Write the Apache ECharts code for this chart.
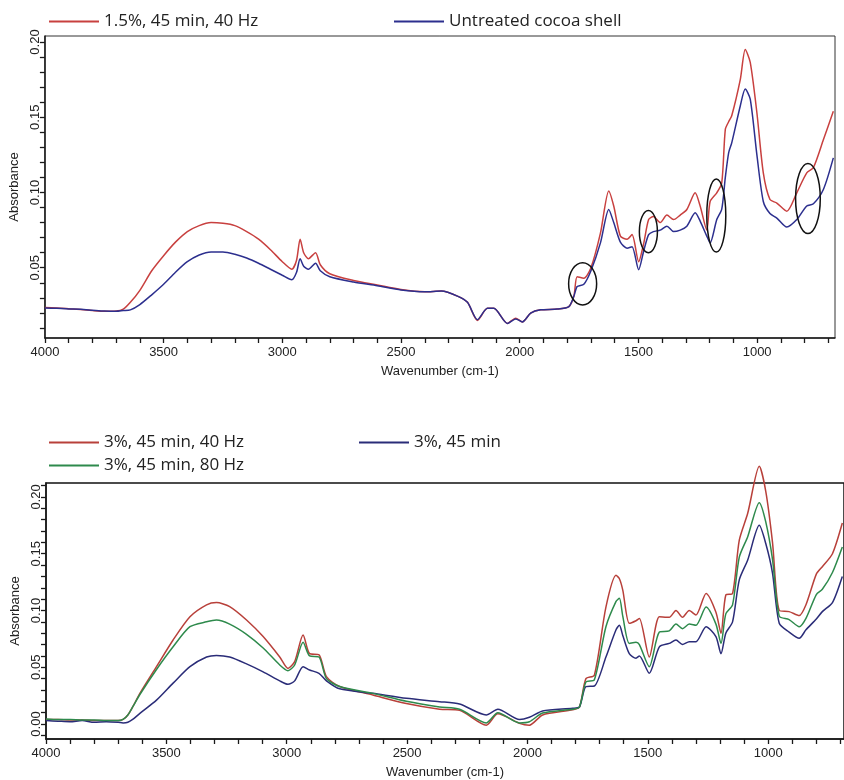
<!DOCTYPE html>
<html><head><meta charset="utf-8">
<script src="https://cdn.jsdelivr.net/npm/echarts@6/dist/echarts.min.js"></script>
<style>html,body{margin:0;padding:0;background:#fff}#c{width:844px;height:780px}</style>
</head><body><div id="c"></div>
<script>
// ---------- Top panel data ----------
const topWavenumbers = [4000,3950,3900,3850,3800,3750,3700,3670,3640,3600,3550,3500,3450,3400,3350,3300,3250,3200,3150,3100,3050,3000,2960,2940,2925,2910,2890,2860,2840,2800,2700,2600,2500,2400,2330,2260,2220,2178,2136,2109,2052,2017,1989,1954,1912,1842,1793,1772,1758,1730,1700,1660,1625,1604,1576,1548,1527,1499,1478,1457,1437,1408,1380,1352,1324,1296,1261,1240,1212,1198,1170,1149,1134,1120,1107,1071,1050,1029,1001,974,946,917,875,833,791,763,721,679];
const topTreated = [0.0235,0.0232,0.0228,0.0222,0.0215,0.021,0.0212,0.0225,0.027,0.035,0.048,0.058,0.067,0.074,0.078,0.080,0.0795,0.078,0.074,0.069,0.062,0.054,0.049,0.055,0.069,0.060,0.056,0.060,0.052,0.046,0.0415,0.0385,0.0355,0.034,0.0345,0.031,0.027,0.015,0.023,0.023,0.013,0.0165,0.014,0.0198,0.022,0.0225,0.0242,0.031,0.044,0.043,0.050,0.073,0.101,0.091,0.071,0.069,0.072,0.054,0.066,0.082,0.084,0.080,0.085,0.082,0.085,0.0887,0.0998,0.091,0.075,0.094,0.0998,0.1064,0.142,0.147,0.151,0.175,0.195,0.1865,0.153,0.113,0.0953,0.093,0.0876,0.0998,0.113,0.1165,0.135,0.154];
const topUntreated = [0.0233,0.023,0.0226,0.0224,0.0218,0.0212,0.021,0.0215,0.022,0.0255,0.032,0.039,0.047,0.054,0.0585,0.0605,0.0605,0.059,0.0565,0.053,0.049,0.045,0.042,0.047,0.056,0.051,0.049,0.053,0.048,0.044,0.0405,0.038,0.0352,0.034,0.0345,0.031,0.027,0.0155,0.023,0.023,0.013,0.016,0.014,0.0198,0.022,0.0225,0.0242,0.031,0.0375,0.039,0.048,0.0665,0.0887,0.080,0.067,0.063,0.064,0.0487,0.061,0.072,0.074,0.075,0.0776,0.074,0.075,0.0776,0.0865,0.081,0.071,0.0665,0.082,0.089,0.110,0.1264,0.133,0.1575,0.1687,0.162,0.125,0.094,0.086,0.083,0.077,0.082,0.091,0.0925,0.102,0.123];
const topNames = ['1.5%, 45 min, 40 Hz', 'Untreated cocoa shell'];

// ---------- Bottom panel data ----------
const botWavenumbers = [4000,3950,3900,3850,3800,3750,3700,3680,3660,3640,3610,3541,3472,3402,3333,3292,3237,3167,3098,3029,2995,2967,2932,2905,2866,2835,2780,2642,2503,2365,2282,2171,2123,2033,1992,1937,1812,1784,1757,1722,1674,1632,1618,1604,1577,1549,1535,1494,1452,1411,1383,1356,1328,1300,1258,1217,1196,1176,1148,1120,1085,1037,1010,982,954,913,871,843,800,775,733,692];
const bot40Hz = [0.004,0.004,0.0035,0.0035,0.003,0.003,0.003,0.004,0.008,0.015,0.027,0.0505,0.074,0.0945,0.105,0.107,0.1034,0.0916,0.077,0.059,0.049,0.055,0.0784,0.062,0.061,0.0417,0.033,0.0255,0.018,0.013,0.012,-0.001,0.009,0.0006,-0.001,0.008,0.0125,0.015,0.040,0.043,0.103,0.131,0.128,0.118,0.0887,0.091,0.093,0.059,0.0945,0.094,0.100,0.094,0.100,0.096,0.115,0.0985,0.080,0.1137,0.115,0.162,0.1856,0.227,0.205,0.160,0.100,0.099,0.0955,0.105,0.132,0.1386,0.150,0.177];
const bot80Hz = [0.0045,0.004,0.004,0.0035,0.0035,0.003,0.003,0.004,0.008,0.015,0.026,0.048,0.068,0.0857,0.090,0.0916,0.088,0.079,0.067,0.052,0.047,0.052,0.072,0.060,0.059,0.040,0.033,0.027,0.020,0.015,0.013,0.001,0.010,0.001,0.002,0.0097,0.013,0.015,0.037,0.039,0.0857,0.108,0.1107,0.095,0.071,0.072,0.070,0.0505,0.081,0.082,0.088,0.084,0.088,0.087,0.103,0.088,0.071,0.097,0.105,0.147,0.165,0.195,0.178,0.145,0.095,0.092,0.0857,0.093,0.114,0.1187,0.1335,0.156];
const botNoUS = [0.003,0.0025,0.002,0.003,0.0015,0.002,0.0015,0.001,0.0015,0.004,0.0094,0.021,0.036,0.0505,0.059,0.0604,0.059,0.053,0.046,0.038,0.035,0.038,0.0505,0.0476,0.0447,0.038,0.031,0.027,0.0226,0.0197,0.0176,0.008,0.013,0.004,0.006,0.0115,0.0138,0.015,0.033,0.0335,0.059,0.083,0.087,0.078,0.062,0.058,0.060,0.0447,0.068,0.071,0.074,0.070,0.0725,0.0725,0.0857,0.077,0.062,0.080,0.090,0.127,0.1445,0.175,0.159,0.133,0.0887,0.081,0.0755,0.083,0.0925,0.099,0.107,0.130];
const botNames = ['3%, 45 min, 40 Hz', '3%, 45 min', '3%, 45 min, 80 Hz'];

// ---------- Tick values ----------
const xTickValues = [4000,3900,3800,3700,3600,3500,3400,3300,3200,3100,3000,2900,2800,2700,2600,2500,2400,2300,2200,2100,2000,1900,1800,1700,1600,1500,1400,1300,1200,1100,1000,900,800,700];
const xLabelValues = [4000,3500,3000,2500,2000,1500,1000];
const topYTicks = [0.01,0.02,0.03,0.04,0.05,0.06,0.07,0.08,0.09,0.10,0.11,0.12,0.13,0.14,0.15,0.16,0.17,0.18,0.19,0.20];
const topYLabels = [0.05,0.10,0.15,0.20];
const botYTicks = [-0.01,0.00,0.01,0.02,0.03,0.04,0.05,0.06,0.07,0.08,0.09,0.10,0.11,0.12,0.13,0.14,0.15,0.16,0.17,0.18,0.19,0.20,0.21];
const botYLabels = [0.00,0.05,0.10,0.15,0.20];

// ---------- Ellipse annotations (top panel), data units ----------
const ellipseCenters = [[1735,0.0393],[1458,0.074],[1172,0.0847],[786,0.096]];
const ellipseHalfWidthsWn = [59,38,40,52];
const ellipseHalfHeightsAbs = [0.014,0.014,0.0243,0.0233];

const zip = (xs, ys) => xs.map((x, i) => [x, ys[i]]);
const FONT = '"Liberation Sans", Arial, sans-serif';
const LFONT = '"Open Sans", "Noto Sans", sans-serif';
const axisCol = '#1a1a1a';

function xAxisCfg(gi, min) {
  return {
    gridIndex: gi, type: 'value', inverse: true, min: min, max: 4000,
    name: 'Wavenumber (cm-1)', nameLocation: 'middle', nameGap: 27,
    nameTextStyle: {fontFamily: FONT, fontSize: 13, color: '#222'},
    axisLine: {show: true, onZero: false, lineStyle: {color: axisCol, width: 1.5}},
    axisTick: {show: true, length: 5, customValues: xTickValues, lineStyle: {color: axisCol, width: 1.3}},
    axisLabel: {customValues: xLabelValues, margin: 8, fontFamily: FONT, fontSize: 13, color: '#222',
      formatter: v => String(Math.round(v))},
    splitLine: {show: false}
  };
}
function yAxisCfg(gi, min, max, ticks, labels) {
  return {
    gridIndex: gi, type: 'value', min: min, max: max,
    name: 'Absorbance', nameLocation: 'middle', nameRotate: 90, nameGap: 15,
    nameTextStyle: {fontFamily: FONT, fontSize: 13, color: '#222'},
    axisLine: {show: true, onZero: false, lineStyle: {color: axisCol, width: 1.5}},
    axisTick: {show: true, length: 5, customValues: ticks, lineStyle: {color: axisCol, width: 1.3}},
    axisLabel: {customValues: labels, rotate: 90, margin: 3, fontFamily: FONT, fontSize: 13, color: '#222',
      formatter: v => Number(v).toFixed(2)},
    splitLine: {show: false}
  };
}
function lineSeries(name, xi, yi, data, color, clip) {
  return {name, type: 'line', xAxisIndex: xi, yAxisIndex: yi, data, symbol: 'none', showSymbol: false,
    smooth: 0.25, clip: clip, lineStyle: {color, width: 1.5}, itemStyle: {color}, animation: false, z: 3};
}
const legendBase = {icon: 'rect', itemWidth: 50, itemHeight: 2, textStyle: {fontFamily: LFONT, fontSize: 17, color: '#222'}};

const chart = echarts.init(document.getElementById('c'), null, {renderer: 'canvas'});
chart.setOption({
  animation: false,
  backgroundColor: '#fff',
  grid: [
    {left: 43, top: 36, right: 9, height: 302, show: true, borderColor: '#333', borderWidth: 1},
    {left: 46, top: 483, right: -1, height: 256, show: true, borderColor: '#111', borderWidth: 1.5}
  ],
  legend: [
    Object.assign({left: 44, top: 8, data: [topNames[0]]}, legendBase),
    Object.assign({left: 389, top: 8, data: [topNames[1]]}, legendBase),
    Object.assign({left: 44, top: 429, data: [botNames[0]]}, legendBase),
    Object.assign({left: 354, top: 429, data: [botNames[1]]}, legendBase),
    Object.assign({left: 44, top: 452, data: [botNames[2]]}, legendBase)
  ],
  xAxis: [xAxisCfg(0, 672), xAxisCfg(1, 685)],
  yAxis: [
    yAxisCfg(0, 0.0033, 0.204, topYTicks, topYLabels),
    yAxisCfg(1, -0.0132, 0.2123, botYTicks, botYLabels)
  ],
  series: [
    lineSeries(topNames[0], 0, 0, zip(topWavenumbers, topTreated), '#c8403f', true),
    lineSeries(topNames[1], 0, 0, zip(topWavenumbers, topUntreated), '#2c2f8e', true),
    lineSeries(botNames[0], 1, 1, zip(botWavenumbers, bot40Hz), '#b8403a', false),
    lineSeries(botNames[1], 1, 1, zip(botWavenumbers, botNoUS), '#2a2c78', false),
    lineSeries(botNames[2], 1, 1, zip(botWavenumbers, bot80Hz), '#2e8a4c', false)
  ]
});

// Ellipse annotations placed through the axis scales
const graphics = ellipseCenters.map((c, i) => {
  const p = chart.convertToPixel({gridIndex: 0}, c);
  const pw = chart.convertToPixel({gridIndex: 0}, [c[0] - ellipseHalfWidthsWn[i], c[1] + ellipseHalfHeightsAbs[i]]);
  return {type: 'ellipse', shape: {cx: p[0], cy: p[1], rx: Math.abs(pw[0] - p[0]), ry: Math.abs(pw[1] - p[1])},
    style: {fill: 'none', stroke: '#111', lineWidth: 1.5}, z: 10};
});
chart.setOption({graphic: graphics});
</script>
</body></html>
